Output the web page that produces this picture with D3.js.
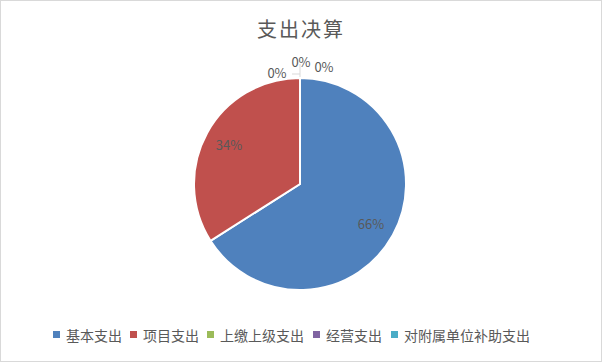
<!DOCTYPE html>
<html>
<script src='https://d3js.org/d3.v7.min.js'></script>
<style>
 body {margin:0;}
 text {font-family: "Noto Sans CJK SC", "DejaVu Sans", sans-serif;}
</style>
<body onload='init()'>
<svg width=602 height=362>
</svg>
<script>

var categories = ['基本支出','项目支出','上缴上级支出','经营支出','对附属单位补助支出'];
var values = [66, 34, 0, 0, 0];
var labels = ['66%','34%','0%','0%','0%'];
var colors = ['#4F81BD','#C0504D','#9BBB59','#8064A2','#4BACC6'];
var title = '支出决算';

function init() {

 var svg = d3.select('svg');
 var cx = 300, cy = 184, r = 106;

 svg.append('rect')
  .attr('x',0.5).attr('y',0.5).attr('width',601).attr('height',361)
  .attr('fill','white').attr('stroke','#d9d9d9');

 svg.append('text')
  .attr('x',301).attr('y',37)
  .attr('text-anchor','middle')
  .attr('font-size',20)
  .attr('fill','#595959')
  .attr('letter-spacing',2)
  .text(title);

 var data = categories.map(function(c,i){ return {name:c, value:values[i], label:labels[i], color:colors[i]}; });

 var pie = d3.pie().sort(null).value(function(d){ return d.value; });
 var arc = d3.arc().innerRadius(0).outerRadius(r);
 var labelArc = d3.arc().innerRadius(81).outerRadius(81);

 var g = svg.append('g').attr('transform','translate('+cx+','+cy+')');
 var arcs = pie(data);

 g.selectAll('path')
  .data(arcs)
  .enter()
   .append('path')
    .attr('d', arc)
    .attr('fill', function(d){ return d.data.color; })
    .attr('stroke','white')
    .attr('stroke-width',2);

 // leader lines for the empty slices at the top
 var top = d3.arc().innerRadius(r).outerRadius(r).centroid(arcs[2]);
 g.append('path')
  .attr('d','M'+top[0]+','+(top[1]-1)+'V'+(top[1]-14)+'M'+top[0]+','+(top[1]-4)+'H'+(top[0]-8))
  .attr('fill','none').attr('stroke','#d9d9d9').attr('stroke-width',1);

 var zeroOff = [[-23,-6],[1,-17],[24,-12]];
 var zi = 0;
 g.selectAll('text.lab')
  .data(arcs)
  .enter()
   .append('text')
    .attr('class','lab')
    .attr('text-anchor','middle')
    .attr('dominant-baseline','central')
    .attr('font-size',13)
    .attr('fill','#595959')
    .attr('transform', function(d){
      if (d.data.value > 0) {
        var c = labelArc.centroid(d);
        return 'translate('+c[0]+','+c[1]+')';
      }
      var o = zeroOff[zi++];
      return 'translate('+(top[0]+o[0])+','+(top[1]+o[1])+')';
    })
    .text(function(d){ return d.data.label; });

 // legend
 var legX = [53,130,207,313,391];
 var leg = svg.append('g').selectAll('g')
  .data(data)
  .enter()
   .append('g')
    .attr('transform', function(d,i){ return 'translate('+legX[i]+',335)'; });
 leg.append('rect')
  .attr('x',0).attr('y',-4).attr('width',7).attr('height',7)
  .attr('fill', function(d){ return d.color; });
 leg.append('text')
  .attr('x',13).attr('y',0)
  .attr('dominant-baseline','central')
  .attr('font-size',14)
  .attr('fill','#595959')
  .text(function(d){ return d.name; });
}

</script>
</body>
</html>
